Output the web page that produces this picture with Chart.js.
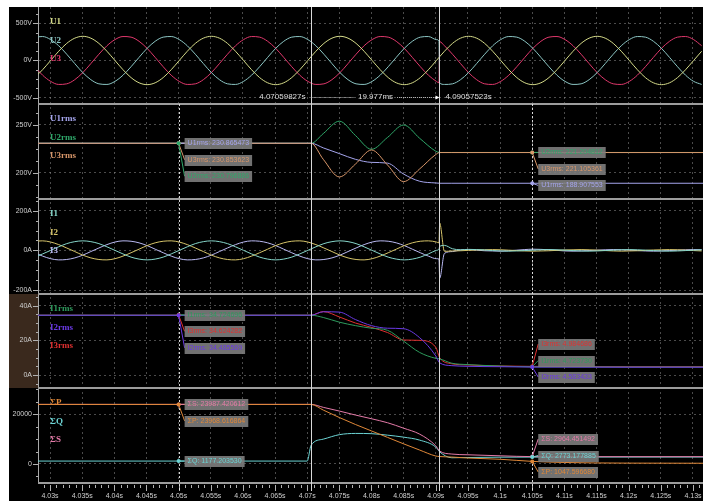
<!DOCTYPE html>
<html>
<head>
<meta charset="utf-8">
<script src="https://cdn.jsdelivr.net/npm/chart.js@4.4.0/dist/chart.umd.min.js"></script>
<style>
  html, body { margin: 0; padding: 0; background: #fff; }
  #wrap { position: absolute; left: 9px; top: 7px; width: 694px; height: 494px; background: #000; }
</style>
</head>
<body>
<div id="wrap"><canvas id="chart" width="694" height="494"></canvas></div>
<script>
// waveform sample times (s)
const tWave = [
  4.0276, 4.02885, 4.0301, 4.03135, 4.0326, 4.03385, 4.0351, 4.03635, 4.0376, 4.03885, 4.0401, 4.04135, 4.0426, 4.04385, 4.0451, 4.04635,
  4.0476, 4.04885, 4.0501, 4.05135, 4.0526, 4.05385, 4.0551, 4.05635, 4.0576, 4.05885, 4.0601, 4.06135, 4.0626, 4.06385, 4.0651, 4.06635,
  4.0676, 4.06885, 4.0701, 4.07135, 4.0726, 4.07385, 4.0751, 4.07635, 4.0776, 4.07885, 4.0801, 4.08135, 4.0826, 4.08385, 4.0851, 4.08635,
  4.0876, 4.08885, 4.0901, 4.0905, 4.0906, 4.09135, 4.0926, 4.09385, 4.0951, 4.09635, 4.0976, 4.09885, 4.1001, 4.10135, 4.1026, 4.10385, 4.1051, 4.10635,
  4.1076, 4.10885, 4.1101, 4.11135, 4.1126, 4.11385, 4.1151, 4.11635, 4.1176, 4.11885, 4.1201, 4.12135, 4.1226, 4.12385, 4.1251, 4.12635,
  4.1276, 4.12885, 4.1301, 4.13135
];
// phase voltages (V)
const u1 = [
  -230, -124, 0, 124, 230, 300, 325, 300, 230, 124, 0, -124, -230, -300, -325, -300,
  -230, -124, 0, 124, 230, 300, 325, 300, 230, 124, 0, -124, -230, -300, -325, -300,
  -230, -124, 0, 124, 230, 300, 325, 300, 230, 124, 0, -124, -230, -300, -325, -300,
  -230, -124, 0, 41, 51, 124, 230, 300, 325, 300, 230, 124, 0, -124, -230, -300, -325, -300,
  -230, -124, 0, 124, 230, 300, 325, 300, 230, 124, 0, -124, -230, -300, -325, -300,
  -230, -124, 0, 124
];
const u2 = [
  314, 322, 281, 198, 84, -42, -163, -258, -314, -322, -281, -198, -84, 42, 163, 258,
  314, 322, 281, 198, 84, -42, -163, -258, -314, -322, -281, -198, -84, 42, 163, 258,
  314, 322, 281, 198, 84, -42, -163, -258, -314, -322, -281, -198, -84, 42, 163, 258,
  314, 322, 281, 259, -303, -322, -314, -258, -163, -42, 84, 198, 281, 322, 314, 258, 163, 42,
  -84, -198, -281, -322, -314, -258, -163, -42, 84, 198, 281, 322, 314, 258, 163, 42,
  -84, -198, -281, -322
];
const u3 = [
  -84, -198, -281, -322, -314, -258, -163, -42, 84, 198, 281, 322, 314, 258, 163, 42,
  -84, -198, -281, -322, -314, -258, -163, -42, 84, 198, 281, 322, 314, 258, 163, 42,
  -84, -198, -281, -322, -314, -258, -163, -42, 84, 198, 281, 322, 314, 258, 163, 42,
  -84, -198, -281, -300, 253, 198, 84, -42, -163, -258, -314, -322, -281, -198, -84, 42, 163, 258,
  314, 322, 281, 198, 84, -42, -163, -258, -314, -322, -281, -198, -84, 42, 163, 258,
  314, 322, 281, 198
];
// phase currents (A)
const i1 = [
  -34, -18, 0, 18, 34, 44, 48, 44, 34, 18, 0, -18, -34, -44, -48, -44,
  -34, -18, 0, 18, 34, 44, 48, 44, 34, 18, 0, -18, -34, -44, -48, -44,
  -34, -18, 0, 18, 34, 44, 48, 44, 34, 18, 0, -18, -34, -44, -48, -44,
  -34, -18, 0, 6, 20, 25, 8, 3, 5, 4, 2, -1, -3, -4, -3, -1, 1, 3,
  4, 3, 1, -1, -3, -4, -3, -1, 1, 3, 4, 3, 1, -1, -3, -4,
  -3, -1, 1, 3
];
const i2 = [
  46, 48, 42, 29, 12, -6, -24, -38, -46, -48, -42, -29, -12, 6, 24, 38,
  46, 48, 42, 29, 12, -6, -24, -38, -46, -48, -42, -29, -12, 6, 24, 38,
  46, 48, 42, 29, 12, -6, -24, -38, -46, -48, -42, -29, -12, 6, 24, 38,
  46, 48, 42, 38, 138, -5, -3, -2, 0, 2, 3, 4, 3, 1, -1, -3, -4, -3,
  -2, 0, 2, 3, 4, 3, 1, -1, -3, -4, -3, -2, 0, 2, 3, 4,
  3, 1, -1, -3
];
const i3 = [
  -12, -29, -42, -48, -46, -38, -24, -6, 12, 29, 42, 48, 46, 38, 24, 6,
  -12, -29, -42, -48, -46, -38, -24, -6, 12, 29, 42, 48, 46, 38, 24, 6,
  -12, -29, -42, -48, -46, -38, -24, -6, 12, 29, 42, 48, 46, 38, 24, 6,
  -12, -29, -42, -44, -141, -15, -6, 2, 3, 1, -2, -3, -4, -2, 1, 4, 6, 5,
  3, 0, -3, -4, -3, -1, 1, 3, 4, 3, 1, -1, -3, -4, -3, -1,
  1, 3, 4, 3
];

// rms / power sample times (s)
const tRms = [4.028, 4.07, 4.0706, 4.0725, 4.075, 4.0775, 4.08, 4.0825, 4.085, 4.0875, 4.09, 4.0906, 4.0925, 4.095, 4.1, 4.105, 4.11, 4.12, 4.1316];
const u1rms = [230.85, 230.85, 230.85, 226, 220, 214, 210.8, 210, 198.5, 191, 189.2, 188.9, 188.9, 188.9, 188.9, 188.9, 188.9, 188.9, 188.9];
const u2rms = [230.8, 230.8, 230.8, 241, 254, 239, 224.5, 237, 250, 236, 222.5, 221.2, 221.2, 221.2, 221.2, 221.2, 221.2, 221.2, 221.2];
const u3rms = [230.85, 230.85, 230.85, 214, 195.5, 209, 223.8, 208, 190.6, 204, 219, 221.1, 221.1, 221.1, 221.1, 221.1, 221.1, 221.1, 221.1];
const i1rms = [34.5, 34.5, 34.5, 33.2, 30.5, 28.5, 27, 25.8, 19.5, 13, 9.6, 9.3, 6.8, 6.0, 5.2, 4.72, 4.7, 4.6, 4.6];
const i2rms = [34.5, 34.5, 34.5, 36.5, 36.3, 32, 28.5, 27, 26.7, 21.5, 11, 7, 5.4, 5.0, 4.8, 4.58, 4.55, 4.5, 4.5];
const i3rms = [34.5, 34.5, 34.5, 36.6, 33.5, 30, 27.5, 24.5, 20.2, 20, 16, 10, 6.5, 5.8, 5.2, 4.98, 4.9, 4.8, 4.8];
const pSum = [23968, 23968, 23968, 21700, 18700, 15900, 13300, 10700, 8100, 5600, 3200, 3000, 2800, 2400, 1900, 1048, 600, 350, 300];
const qSum = [1177, 1177, 7500, 10000, 11800, 12300, 12200, 11600, 10800, 9600, 6800, 4900, 2500, 2600, 2750, 2773, 2800, 2800, 2800];
const sSum = [23987, 23987, 23987, 22800, 21300, 19700, 18200, 16600, 14400, 12000, 7300, 5200, 4000, 3700, 3300, 2964, 2950, 2950, 2950];

// tick values
const tickTime = [4.03, 4.035, 4.04, 4.045, 4.05, 4.055, 4.06, 4.065, 4.07, 4.075, 4.08, 4.085, 4.09, 4.095, 4.1, 4.105, 4.11, 4.115, 4.12, 4.125, 4.13];
const tickU = [-500, 0, 500];
const tickUrms = [200, 250];
const tickI = [-200, 0, 200];
const tickIrms = [0, 20, 40];
const tickPow = [0, 20000];

// cursors and marker readouts
const cursorTimes = [4.07059827, 4.09057523];
const markTimes = [4.05, 4.105];
const uRmsMarks = [[230.865473, 230.796886, 230.853623], [188.907553, 221.204812, 221.105361]];
const iRmsMarks = [[34.724696, 34.485569, 34.624282], [4.723730, 4.583433, 4.984686]];
const sumMarks = [[23968.616864, 1177.203530, 23987.420612], [1047.596680, 2773.177885, 2964.451492]];

const minorStep = { y1: 125, y2: 12.5, y3: 50, y4: 5, y5: 5000 };

Chart.defaults.font.family = '"Liberation Sans", Arial, sans-serif';

const pts = (t, v) => t.map((x, i) => ({ x: x, y: v[i] }));
function series(label, t, v, color, axis, order) {
  return {
    label: label, data: pts(t, v), yAxisID: axis, order: order || 0,
    borderColor: color, backgroundColor: color, borderWidth: 1,
    pointRadius: 0, cubicInterpolationMode: 'monotone'
  };
}

function yAxis(min, max, ticks, unit, weight, stackWeight) {
  return {
    type: 'linear', position: 'left', stack: 'scope', stackWeight: stackWeight, weight: weight,
    min: min, max: max, bounds: 'data',
    afterFit: s => { s.width = 29; s.paddingTop = 0; s.paddingBottom = 0; },
    afterBuildTicks: s => { s.ticks = ticks.map(v => ({ value: v })); },
    border: { color: '#a9a9a9', width: 1, dash: [2, 3] },
    grid: { color: 'rgba(150,150,150,0.5)', drawTicks: false },
    ticks: { padding: 6, color: '#cfcfcf', font: { size: 7 }, callback: v => v + unit }
  };
}

function line(ctx, x1, y1, x2, y2) {
  ctx.beginPath(); ctx.moveTo(x1, y1); ctx.lineTo(x2, y2); ctx.stroke();
}

const scopePlugin = {
  id: 'scope',
  beforeDraw(chart) {
    const ctx = chart.ctx, s = chart.scales.y4;
    ctx.save();
    ctx.fillStyle = '#3a291d';
    ctx.fillRect(0, s.top, s.right, s.bottom - s.top);
    ctx.restore();
  },
  afterDraw(chart) {
    const ctx = chart.ctx, area = chart.chartArea, x = chart.scales.x;
    const ys = ['y1', 'y2', 'y3', 'y4', 'y5'].map(id => chart.scales[id]);
    ctx.save();

    // panel separators
    ctx.strokeStyle = '#9c9c9c'; ctx.lineWidth = 2;
    ys.forEach(s => line(ctx, area.left, s.bottom, area.right, s.bottom));

    // y tick marks
    ctx.lineWidth = 1; ctx.strokeStyle = '#b0b0b0';
    ys.forEach(s => {
      const step = minorStep[s.id];
      for (let v = Math.ceil(s.min / step) * step; v <= s.max; v += step) {
        const py = Math.round(s.getPixelForValue(v)) + 0.5;
        const major = s.ticks.some(t => Math.abs(t.value - v) < step / 10);
        line(ctx, area.left - (major ? 5 : 2), py, area.left, py);
      }
    });
    // x tick marks
    for (let i = Math.ceil(x.min * 1000); i <= Math.floor(x.max * 1000); i++) {
      const px = Math.round(x.getPixelForValue(i / 1000)) + 0.5;
      line(ctx, px, area.bottom + 2, px, area.bottom + (i % 5 === 0 ? 8 : 5));
    }

    // marker lines (dashed) and cursors (solid)
    ctx.strokeStyle = 'rgba(235,235,235,0.9)';
    ctx.setLineDash([2, 2]);
    markTimes.forEach(t => {
      const px = Math.round(x.getPixelForValue(t)) + 0.5;
      line(ctx, px, ys[1].top, px, area.bottom + 8);
    });
    ctx.setLineDash([]);
    ctx.strokeStyle = '#d8d8d8';
    const cx = cursorTimes.map(t => Math.round(x.getPixelForValue(t)) + 0.5);
    cx.forEach(px => line(ctx, px, area.top, px, area.bottom + 8));

    // cursor readout
    const cy = ys[0].bottom - 7;
    ctx.font = '8px "Liberation Sans", Arial, sans-serif';
    ctx.fillStyle = '#dedede'; ctx.textBaseline = 'middle';
    ctx.textAlign = 'right';
    ctx.fillText(cursorTimes[0].toFixed(8) + 's', cx[0] - 6, cy);
    ctx.textAlign = 'left';
    ctx.fillText(cursorTimes[1].toFixed(8) + 's', cx[1] + 6, cy);
    const dt = ((cursorTimes[1] - cursorTimes[0]) * 1000).toFixed(3) + 'ms';
    const mid = (cx[0] + cx[1]) / 2, mw = ctx.measureText(dt).width;
    ctx.textAlign = 'center';
    ctx.fillText(dt, mid, cy);
    ctx.strokeStyle = '#bbbbbb'; ctx.setLineDash([1, 1]);
    line(ctx, cx[0], cy + 0.5, mid - mw / 2 - 4, cy + 0.5);
    line(ctx, mid + mw / 2 + 4, cy + 0.5, cx[1] - 3, cy + 0.5);
    ctx.setLineDash([]);
    ctx.fillStyle = '#ffffff';
    ctx.beginPath(); ctx.moveTo(cx[1], cy + 0.5); ctx.lineTo(cx[1] - 4, cy - 1.5); ctx.lineTo(cx[1] - 4, cy + 2.5); ctx.fill();

    // channel names
    ctx.font = 'bold 9px "Liberation Serif", serif';
    ctx.textAlign = 'left'; ctx.textBaseline = 'middle';
    ys.forEach(s => {
      chart.data.datasets.filter(d => d.yAxisID === s.id).forEach((d, i) => {
        ctx.fillStyle = d.borderColor;
        ctx.fillText(d.label, area.left + 12, s.top + 15 + 18.4 * i);
      });
    });

    // marker readout boxes
    const markSets = [{ axis: 'y2', vals: uRmsMarks }, { axis: 'y4', vals: iRmsMarks }, { axis: 'y5', vals: sumMarks }];
    ctx.font = '7px "Liberation Sans", Arial, sans-serif';
    markSets.forEach(ms => {
      const s = chart.scales[ms.axis];
      const sets = chart.data.datasets.filter(d => d.yAxisID === ms.axis);
      markTimes.forEach((t, j) => {
        const px = x.getPixelForValue(t);
        const items = sets.map((d, i) => ({ d: d, v: ms.vals[j][i], py: s.getPixelForValue(ms.vals[j][i]) }))
          .sort((a, b) => b.v - a.v);
        let prev = -Infinity;
        items.forEach(it => { it.cy = Math.max(it.py, prev + 16.5); prev = it.cy; });
        const over = prev - (s.bottom - 11);
        if (over > 0) items.forEach(it => { it.cy -= over; });
        items.forEach(it => {
          const text = it.d.label + ': ' + it.v.toFixed(6);
          const w = ctx.measureText(text).width + 6, bx = px + 6;
          ctx.strokeStyle = it.d.borderColor;
          line(ctx, px, it.py, bx, it.cy);
          ctx.fillStyle = 'rgba(125,125,125,0.9)';
          ctx.fillRect(bx, Math.round(it.cy) - 5, w, 11);
          ctx.fillStyle = it.d.borderColor;
          ctx.fillText(text, bx + 3, Math.round(it.cy) + 0.5);
        });
        items.forEach(it => {
          ctx.fillStyle = it.d.borderColor;
          ctx.beginPath(); ctx.arc(px, it.py, 2, 0, Math.PI * 2); ctx.fill();
        });
      });
    });
    ctx.restore();
  }
};

const chart = new Chart(document.getElementById('chart').getContext('2d'), {
  type: 'line',
  data: {
    datasets: [
      series('U1', tWave, u1, '#d6dc8a', 'y1'),
      series('U2', tWave, u2, '#8cc6c4', 'y1'),
      series('U3', tWave, u3, '#e0386c', 'y1'),
      series('U1rms', tRms, u1rms, '#a4a4ec', 'y2', 1),
      series('U2rms', tRms, u2rms, '#2fa86a', 'y2', 1),
      series('U3rms', tRms, u3rms, '#d9976a', 'y2', 0),
      series('I1', tWave, i1, '#86d6ca', 'y3'),
      series('I2', tWave, i2, '#d6c46a', 'y3'),
      series('I3', tWave, i3, '#b9b9f2', 'y3'),
      series('I1rms', tRms, i1rms, '#2d9a5c', 'y4', 1),
      series('I2rms', tRms, i2rms, '#6b3ae6', 'y4', 0),
      series('I3rms', tRms, i3rms, '#e03030', 'y4', 1),
      series('ΣP', tRms, pSum, '#e08838', 'y5', 0),
      series('ΣQ', tRms, qSum, '#6cd4d4', 'y5', 2),
      series('ΣS', tRms, sSum, '#e47aa8', 'y5', 1)
    ]
  },
  options: {
    responsive: false,
    animation: false,
    events: [],
    layout: { padding: 0 },
    plugins: { legend: { display: false }, tooltip: { enabled: false } },
    scales: {
      x: {
        type: 'linear', position: 'bottom', min: 4.02813, max: 4.13156, bounds: 'data',
        afterFit: s => { s.height = 18; s.paddingLeft = 0; s.paddingRight = 0; },
        afterBuildTicks: s => { s.ticks = tickTime.map(v => ({ value: v })); },
        border: { display: false, dash: [2, 3] },
        grid: { color: 'rgba(150,150,150,0.5)', drawTicks: false },
        ticks: { padding: 9, color: '#cfcfcf', font: { size: 7 }, autoSkip: false, maxRotation: 0, callback: v => +v.toFixed(3) + 's' }
      },
      y1: yAxis(-585, 719, tickU, 'V', 5, 97),
      y2: yAxis(172.4, 272, tickUrms, 'V', 4, 95),
      y3: yAxis(-220, 259, tickI, 'A', 3, 95),
      y4: yAxis(-7.5, 46.75, tickIrms, 'A', 2, 94),
      y5: yAxis(-7650, 30580, tickPow, '', 1, 95)
    }
  },
  plugins: [scopePlugin]
});
</script>
</body>
</html>
